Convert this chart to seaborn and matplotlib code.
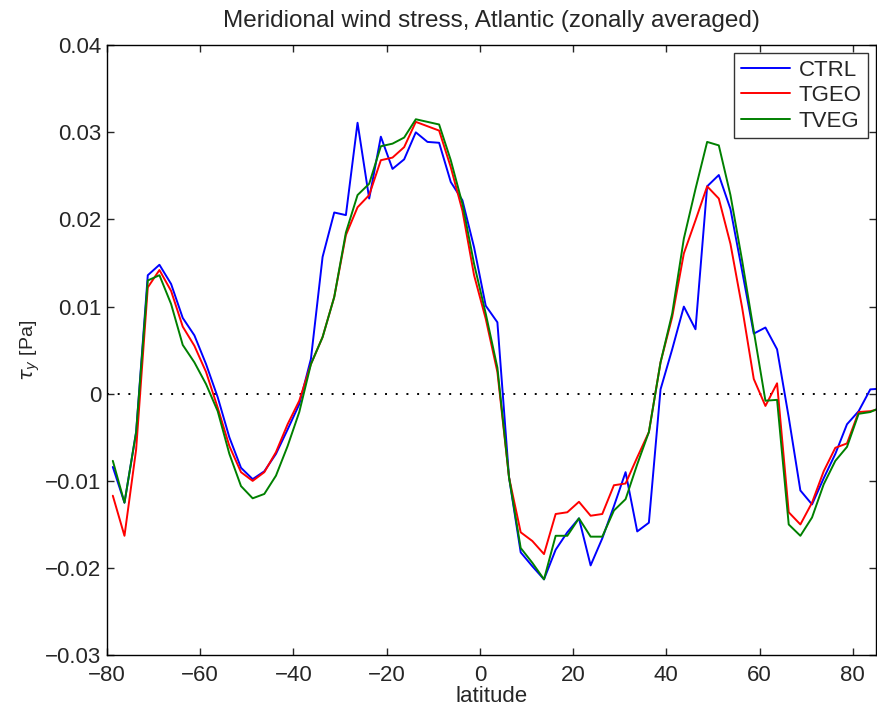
import numpy as np
import pandas as pd
import matplotlib
matplotlib.use('Agg')
import matplotlib.pyplot as plt
import seaborn as sns

# latitude grid (deg)
lat = [-78.75, -76.25, -73.75, -71.25, -68.75, -66.25, -63.75, -61.25, -58.75, -56.25,
       -53.75, -51.25, -48.75, -46.25, -43.75, -41.25, -38.75, -36.25, -33.75, -31.25,
       -28.75, -26.25, -23.75, -21.25, -18.75, -16.25, -13.75, -11.25, -8.75, -6.25,
       -3.75, -1.25, 1.25, 3.75, 6.25, 8.75, 11.25, 13.75, 16.25, 18.75,
       21.25, 23.75, 26.25, 28.75, 31.25, 33.75, 36.25, 38.75, 41.25, 43.75,
       46.25, 48.75, 51.25, 53.75, 56.25, 58.75, 61.25, 63.75, 66.25, 68.75,
       71.25, 73.75, 76.25, 78.75, 81.25, 83.75, 86.25]

ctrl = [-0.0084, -0.0125, -0.0044, 0.0136, 0.0148, 0.0126, 0.0087, 0.0067, 0.0034, -0.0004,
        -0.0050, -0.0085, -0.0098, -0.0089, -0.0069, -0.0041, -0.0012, 0.0040, 0.0157, 0.0208,
        0.0205, 0.0311, 0.0224, 0.0295, 0.0258, 0.0269, 0.0300, 0.0289, 0.0288, 0.0243,
        0.0222, 0.0168, 0.0101, 0.0082, -0.0096, -0.0182, -0.0198, -0.0213, -0.0179, -0.0159,
        -0.0143, -0.0197, -0.0166, -0.0129, -0.0090, -0.0158, -0.0148, 0.0005, 0.0051, 0.0100,
        0.0074, 0.0238, 0.0251, 0.0212, 0.0141, 0.0069, 0.0076, 0.0051, -0.0027, -0.0111,
        -0.0127, -0.0097, -0.0069, -0.0035, -0.0020, 0.0005, 0.0006]

tgeo = [-0.0117, -0.0163, -0.0064, 0.0122, 0.0142, 0.0118, 0.0077, 0.0055, 0.0025, -0.0016,
        -0.0060, -0.0090, -0.0100, -0.0090, -0.0067, -0.0035, -0.0008, 0.0034, 0.0065, 0.0111,
        0.0182, 0.0214, 0.0228, 0.0268, 0.0271, 0.0283, 0.0312, 0.0307, 0.0302, 0.0260,
        0.0210, 0.0136, 0.0086, 0.0025, -0.0096, -0.0159, -0.0169, -0.0184, -0.0138, -0.0136,
        -0.0124, -0.0140, -0.0138, -0.0105, -0.0103, -0.0073, -0.0044, 0.0036, 0.0088, 0.0161,
        0.0199, 0.0238, 0.0224, 0.0172, 0.0099, 0.0017, -0.0014, 0.0012, -0.0136, -0.0150,
        -0.0125, -0.0089, -0.0062, -0.0057, -0.0021, -0.0020, -0.0017]

tveg = [-0.0077, -0.0125, -0.0044, 0.0130, 0.0136, 0.0103, 0.0056, 0.0036, 0.0011, -0.0020,
        -0.0069, -0.0106, -0.0120, -0.0115, -0.0094, -0.0060, -0.0021, 0.0034, 0.0065, 0.0111,
        0.0185, 0.0228, 0.0241, 0.0284, 0.0287, 0.0294, 0.0315, 0.0312, 0.0309, 0.0268,
        0.0218, 0.0149, 0.0092, 0.0030, -0.0096, -0.0177, -0.0194, -0.0213, -0.0163, -0.0163,
        -0.0143, -0.0164, -0.0164, -0.0134, -0.0121, -0.0081, -0.0044, 0.0036, 0.0092, 0.0178,
        0.0235, 0.0289, 0.0285, 0.0228, 0.0153, 0.0072, -0.0008, -0.0007, -0.0150, -0.0163,
        -0.0142, -0.0104, -0.0077, -0.0061, -0.0023, -0.0021, -0.0015]

runs = ['CTRL', 'TGEO', 'TVEG']
colors = {'CTRL': '#0000ff', 'TGEO': '#ff0000', 'TVEG': '#008000'}

xticks = [-80, -60, -40, -20, 0, 20, 40, 60, 80]
yticks = [-0.03, -0.02, -0.01, 0, 0.01, 0.02, 0.03, 0.04]
ylabels = ['\u22120.03', '\u22120.02', '\u22120.01', '0', '0.01', '0.02', '0.03', '0.04']
xlabels = ['\u221280', '\u221260', '\u221240', '\u221220', '0', '20', '40', '60', '80']

df = pd.DataFrame({
    'latitude': lat * 3,
    'tau': ctrl + tgeo + tveg,
    'run': [r for r in runs for _ in lat],
})

sns.set_style('ticks')
plt.rcParams['font.family'] = ['Liberation Sans', 'DejaVu Sans']
fs = 16

fig = plt.figure(figsize=(8.77, 7.06), dpi=100)
ax = fig.add_axes([0.122, 0.072, 0.877, 0.864])

sns.lineplot(data=df, x='latitude', y='tau', hue='run', palette=colors,
             estimator=None, sort=False, linewidth=1.4, ax=ax)
ax.axhline(0, color='black', linestyle=(0, (1, 4.5)), linewidth=1.4, zorder=0)

ax.set_xlim(-80, 85)
ax.set_ylim(-0.03, 0.04)
ax.set_xticks(xticks)
ax.set_xticklabels(xlabels)
ax.set_yticks(yticks)
ax.set_yticklabels(ylabels)
ax.tick_params(direction='in', length=5, width=1, top=True, right=True, labelsize=fs)
ax.tick_params(axis='x', pad=7)
ax.tick_params(axis='y', pad=4)
for s in ax.spines.values():
    s.set_visible(True)
    s.set_color('black')
    s.set_linewidth(1)

ax.set_xlabel('latitude', fontsize=fs, labelpad=0)
ax.set_ylabel(r'$\tau_y$ [Pa]', fontsize=fs - 2, labelpad=2)
ax.set_title('Meridional wind stress, Atlantic (zonally averaged)', fontsize=17.5, pad=13)

leg = ax.legend(loc='upper right', fontsize=fs, frameon=True, fancybox=False,
                edgecolor='black', handlelength=2.2, borderaxespad=0.35,
                labelspacing=0.2, borderpad=0.3, handletextpad=0.4)
leg.get_frame().set_linewidth(1)

fig.savefig('out.png', dpi=100)
